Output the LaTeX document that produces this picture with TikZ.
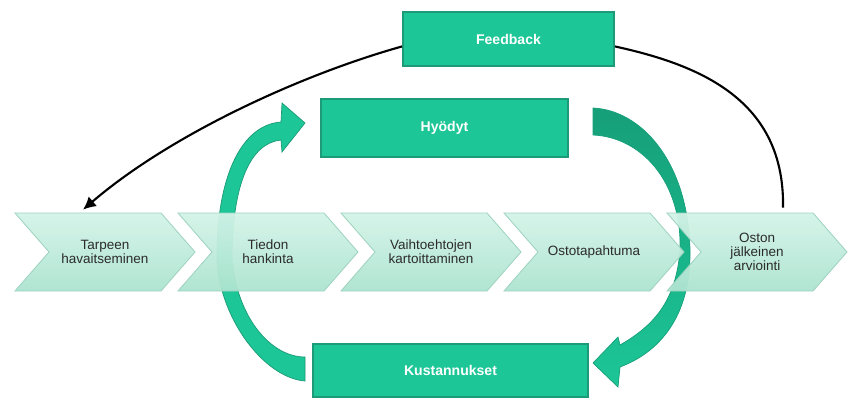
\documentclass[tikz,border=0pt]{standalone}
\usepackage{fontspec}
\setmainfont{Liberation Sans}
\usetikzlibrary{arrows.meta}

\definecolor{boxgreen}{HTML}{1CC697}
\definecolor{boxedge}{HTML}{1D9A77}
\definecolor{arrowdark}{HTML}{169F79}
\definecolor{chevtop}{HTML}{D4F3E8}
\definecolor{chevbot}{HTML}{ACE4D0}
\definecolor{chevedge}{HTML}{9FD3C0}
\definecolor{chevtext}{HTML}{2B2B2B}

\tikzset{
  greenbox/.style={draw=boxedge, line width=1.4pt, fill=boxgreen, text=white, font=\fontsize{10}{12}\selectfont\bfseries},
  chevshape/.style={draw=chevedge, line width=0.6pt, top color=chevtop, bottom color=chevbot, fill opacity=0.95},
  chevlabel/.style={align=center, text=chevtext, font=\fontsize{9.6}{10}\selectfont, minimum height=19.5mm},
  loopline/.style={line width=1.5pt, black},
}

\begin{document}
\begin{tikzpicture}[x=0.25mm, y=-0.25mm]
\useasboundingbox (0,0) rectangle (848,398);

% benefit / cost arrows
\filldraw[fill=boxgreen, draw=boxedge, line width=0.5pt] (305,381) .. controls (265,378) and (220,320) .. (217,260) .. controls (216,180) and (240,125) .. (281,122) -- (282,103) -- (305,123) -- (282,152) -- (281,140) .. controls (250,143) and (232,185) .. (232,260) .. controls (238,320) and (272,357) .. (305,357) -- cycle;
\draw[draw=arrowdark, top color=arrowdark, bottom color=boxgreen, line width=0.5pt] (593,108) .. controls (640,110) and (688,160) .. (690,250) .. controls (691,310) and (665,350) .. (620,367) -- (618,387) -- (593,363) -- (618,337) -- (620,345) .. controls (655,325) and (676,300) .. (680,250) .. controls (682,180) and (640,137) .. (593,135) -- cycle;

% process chevrons
\foreach \i/\txt in {1/{Tarpeen\\havaitseminen}, 2/{Tiedon\\hankinta}, 3/{Vaihtoehtojen\\kartoittaminen}, 4/Ostotapahtuma, 5/{Oston\\jälkeinen\\arviointi}}{
  \pgfmathsetmacro{\x}{15+163*(\i-1)}
  \draw[chevshape] (\x,213) -- ++(146,0) -- ++(34,39) -- ++(-34,39) -- ++(-146,0) -- ++(34,-39) -- cycle;
  \node[chevlabel] (c\i) at (\x+90,252) {\txt};
}

% boxes
\node[greenbox, minimum width=52.75mm, minimum height=13.5mm] (fb) at (508.5,39) {Feedback};
\node[greenbox, minimum width=61.75mm, minimum height=14.5mm] (hy) at (444.5,128) {Hyödyt};
\node[greenbox, minimum width=68.75mm, minimum height=13.25mm] (ku) at (450.5,370.5) {Kustannukset};

% feedback loop
\coordinate (need) at ([xshift=-5.5mm,yshift=0.75mm]c1.north);
\coordinate (eval) at ([xshift=6.5mm,yshift=1.25mm]c5.north);
\draw[loopline, -{Latex[length=3.2mm,width=3.2mm]}] (fb.184) .. controls (300,75) and (170,135) .. (need);
\draw[loopline] (fb.-4) .. controls (700,65) and (785,100) .. (eval);
\end{tikzpicture}
\end{document}
